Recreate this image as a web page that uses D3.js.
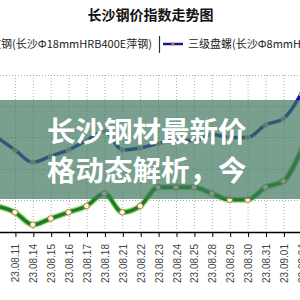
<!DOCTYPE html>
<html>
<head>
<meta charset="utf-8">
<script src="https://cdn.jsdelivr.net/npm/d3@7"></script>
<style>
  html, body { margin: 0; padding: 0; background: #fff; }
  svg { display: block; }
  .tick-label { font-family: "Liberation Sans", Arial, sans-serif; font-size: 10px; fill: #444; }
  .legend-text { font-family: "Noto Sans CJK SC", sans-serif; font-size: 11px; fill: #222; }
</style>
</head>
<body>
<div id="chart"></div>
<script>
// Data
var dates = ['23.08.10', '23.08.11', '23.08.14', '23.08.15', '23.08.16', '23.08.17', '23.08.18',
    '23.08.21', '23.08.22', '23.08.23', '23.08.24', '23.08.25', '23.08.28', '23.08.29',
    '23.08.30', '23.08.31', '23.09.01', '23.09.04'];
var panluo = [4000, 3980, 3960, 3970, 3980, 3995, 4010, 3980, 3983, 3990, 3995, 3995,
    4005, 4000, 4000, 4020, 4030, 4070];
var luowen = [3890, 3880, 3860, 3870, 3880, 3890, 3910, 3880, 3890, 3920, 3920, 3920,
    3910, 3900, 3900, 3920, 3930, 3980];
var gridValues = [3900, 3950, 4000, 4050, 4100];
var chartTitle = '长沙钢价指数走势图';
var legendNames = ['螺纹钢(长沙Φ18mmHRB400E萍钢)', '三级盘螺(长沙Φ8mmHRB400E萍钢)'];
var bannerLines = ['长沙钢材最新价', '格动态解析，今'];

var width = 300,
    height = 300;

var svg = d3.select('#chart').append('svg')
    .attr('width', width)
    .attr('height', height)
    .attr('viewBox', `0 0 ${width} ${height}`);

// Scales
var xScale = d3.scalePoint()
    .domain(dates)
    .range([-3, -3 + 17.9 * (dates.length - 1)]);

var yScale = d3.scaleLinear()
    .domain([3850, 4100])
    .range([231, 75]);

// Title
svg.append('text')
    .attr('x', 150.5)
    .attr('y', 20)
    .attr('text-anchor', 'middle')
    .style('font-family', '"Noto Sans CJK SC", sans-serif')
    .style('font-weight', 'bold')
    .style('font-size', '14px')
    .style('fill', '#111')
    .text(chartTitle);

// Legend
svg.append('text')
    .attr('class', 'legend-text')
    .attr('x', 152)
    .attr('y', 48)
    .attr('text-anchor', 'end')
    .text(legendNames[0]);

svg.append('line')
    .attr('x1', 159.5).attr('x2', 159.5)
    .attr('y1', 36).attr('y2', 53)
    .style('stroke', '#333')
    .style('stroke-width', 1.2);

svg.append('line')
    .attr('x1', 163).attr('x2', 183)
    .attr('y1', 44).attr('y2', 44)
    .style('stroke', '#1a1a8c')
    .style('stroke-width', 2.5);

svg.append('circle')
    .attr('cx', 173).attr('cy', 44).attr('r', 1.5)
    .style('fill', '#d07080');

svg.append('text')
    .attr('class', 'legend-text')
    .attr('x', 188)
    .attr('y', 48)
    .text(legendNames[1]);

// Grid
var grid = svg.append('g').attr('class', 'grid');

grid.selectAll('.vgrid')
    .data(dates)
    .enter().append('line')
    .attr('class', 'vgrid')
    .attr('x1', (d) => xScale(d) + 0.5)
    .attr('x2', (d) => xScale(d) + 0.5)
    .attr('y1', yScale(4100))
    .attr('y2', yScale(3850))
    .style('stroke', '#aaa')
    .style('stroke-width', 1)
    .style('stroke-dasharray', '1,2');

grid.selectAll('.hgrid')
    .data(gridValues)
    .enter().append('line')
    .attr('class', 'hgrid')
    .attr('x1', 0)
    .attr('x2', width)
    .attr('y1', (d) => Math.round(yScale(d)) + 0.5)
    .attr('y2', (d) => Math.round(yScale(d)) + 0.5)
    .style('stroke', '#aaa')
    .style('stroke-width', 1)
    .style('stroke-dasharray', '1,2');

// X axis (first date sits off the left edge, so no label for it)
var xAxis = d3.axisBottom(xScale)
    .tickValues(dates.slice(1))
    .tickSize(5)
    .tickSizeOuter(0);

var axisG = svg.append('g')
    .attr('transform', 'translate(0.5,' + (yScale(3850) + 1) + ')')
    .call(xAxis);

axisG.select('.domain').style('stroke', '#000').style('stroke-width', 1.3);
axisG.selectAll('.tick line').style('stroke', '#000');
axisG.selectAll('.tick text')
    .attr('class', 'tick-label')
    .attr('transform', 'rotate(-90)')
    .attr('x', -12)
    .attr('y', 0)
    .attr('dy', '0.35em')
    .style('text-anchor', 'end');

// Lines
var line = d3.line()
    .x((d, i) => xScale(dates[i]))
    .y((d) => yScale(d))
    .curve(d3.curveMonotoneX);

// green series with a light halo
svg.append('path')
    .datum(luowen)
    .attr('d', line)
    .style('fill', 'none')
    .style('stroke', '#8fdc7f')
    .style('stroke-width', 6);

svg.append('path')
    .datum(luowen)
    .attr('d', line)
    .style('fill', 'none')
    .style('stroke', '#1f7a22')
    .style('stroke-width', 3.5);

svg.selectAll('.gdot')
    .data(luowen)
    .enter().append('circle')
    .attr('class', 'gdot')
    .attr('cx', (d, i) => xScale(dates[i]))
    .attr('cy', (d) => yScale(d))
    .attr('r', 2.8)
    .style('fill', '#fff6ea')
    .style('stroke', '#c0783a')
    .style('stroke-width', 1);

// blue series
svg.append('path')
    .datum(panluo)
    .attr('d', line)
    .style('fill', 'none')
    .style('stroke', '#1010b4')
    .style('stroke-width', 3.5);

svg.selectAll('.bdot')
    .data(panluo)
    .enter().append('circle')
    .attr('class', 'bdot')
    .attr('cx', (d, i) => xScale(dates[i]))
    .attr('cy', (d) => yScale(d))
    .attr('r', 2.5)
    .style('fill', '#8c8c8c')
    .style('stroke', '#d0d0d0')
    .style('stroke-width', 0.8);

// Translucent banner on top
svg.append('rect')
    .attr('x', 0)
    .attr('y', 100)
    .attr('width', width)
    .attr('height', 99)
    .style('fill', 'rgb(64,118,94)')
    .style('fill-opacity', 0.7);

svg.selectAll('.banner')
    .data(bannerLines)
    .enter().append('text')
    .attr('class', 'banner')
    .attr('x', 47)
    .attr('y', (d, i) => 142 + i * 39)
    .style('font-family', '"Noto Sans CJK SC", sans-serif')
    .style('font-weight', 'bold')
    .style('font-size', '28.5px')
    .style('fill', '#fff')
    .text((d) => d);
</script>
</body>
</html>
